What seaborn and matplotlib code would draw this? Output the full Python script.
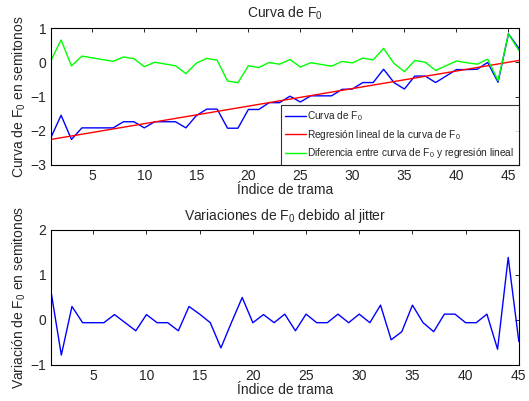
import numpy as np
import pandas as pd
import matplotlib
matplotlib.use("Agg")
import matplotlib.pyplot as plt
import seaborn as sns

# F0 curve (semitones), one value per frame
frames = np.arange(1, 47)
f0_curve = [-2.22, -1.55, -2.26, -1.92, -1.92, -1.92, -1.92, -1.74, -1.74, -1.92,
            -1.74, -1.74, -1.74, -1.92, -1.56, -1.37, -1.37, -1.93, -1.93, -1.38,
            -1.38, -1.18, -1.18, -0.99, -1.16, -0.98, -0.98, -0.98, -0.79, -0.78,
            -0.59, -0.59, -0.20, -0.59, -0.78, -0.40, -0.40, -0.59, -0.40, -0.21,
            -0.21, -0.20, 0.00, -0.58, 0.84, 0.41]

# jitter variations, one value less than the curve
jitter_frames = np.arange(1, 46)
jitter = [0.68, -0.78, 0.30, -0.06, -0.06, -0.06, 0.12, -0.06, -0.24, 0.12,
          -0.06, -0.06, -0.24, 0.30, 0.13, -0.06, -0.62, -0.05, 0.50, -0.06,
          0.12, -0.06, 0.13, -0.24, 0.13, -0.06, -0.06, 0.13, -0.06, 0.13,
          -0.06, 0.33, -0.44, -0.26, 0.33, -0.06, -0.26, 0.13, 0.13, -0.06,
          -0.06, 0.13, -0.65, 1.39, -0.48]

# linear regression of the curve and residual
coef = np.polyfit(frames, f0_curve, 1)
regression = np.polyval(coef, frames)
residual = np.array(f0_curve) - regression

df = pd.DataFrame({"frame": frames, "curve": f0_curve,
                   "reg": regression, "diff": residual})
dj = pd.DataFrame({"frame": jitter_frames, "jitter": jitter})

sns.set_style("white")
plt.rcParams["font.family"] = ["Liberation Sans", "DejaVu Sans"]
plt.rcParams["mathtext.fontset"] = "custom"
plt.rcParams["mathtext.rm"] = "Liberation Sans"
plt.rcParams["xtick.direction"] = "in"
plt.rcParams["ytick.direction"] = "in"
plt.rcParams["xtick.top"] = True
plt.rcParams["ytick.right"] = True

F0 = r"F$_\mathregular{0}$"

fig = plt.figure(figsize=(5.29, 4.01), dpi=100)
ax1 = fig.add_axes([0.0958, 0.5893, 0.885, 0.340])
ax2 = fig.add_axes([0.0958, 0.0898, 0.885, 0.3367])

sns.lineplot(data=df, x="frame", y="curve", ax=ax1, color="#0000ff", lw=1,
             label="Curva de " + F0)
sns.lineplot(data=df, x="frame", y="reg", ax=ax1, color="#ff0000", lw=1,
             label="Regresión lineal de la curva de " + F0)
sns.lineplot(data=df, x="frame", y="diff", ax=ax1, color="#00ff00", lw=1,
             label="Diferencia entre curva de " + F0 + " y regresión lineal")

sns.lineplot(data=dj, x="frame", y="jitter", ax=ax2, color="#0000ff", lw=1)

ax1.set_xlim(1, 46)
ax1.set_ylim(-3, 1)
ax1.set_yticks([-3, -2, -1, 0, 1])
ax2.set_xlim(1, 45)
ax2.set_ylim(-1, 2)
ax2.set_yticks([-1, 0, 1, 2])

for ax in (ax1, ax2):
    ax.set_xticks(range(5, 46, 5))
    ax.set_xlabel("Índice de trama", fontsize=10, labelpad=0)
    ax.tick_params(length=3, width=0.7, labelsize=10, pad=3)
    for s in ax.spines.values():
        s.set_linewidth(0.8)
        s.set_color("black")

ax1.set_title("Curva de " + F0, fontsize=10, pad=8)
ax1.set_ylabel("Curva de " + F0 + " en semitonos", fontsize=10, labelpad=2)
ax2.set_title("Variaciones de " + F0 + " debido al jitter", fontsize=10, pad=7)
ax2.set_ylabel("Variación de " + F0 + " en semitonos", fontsize=10, labelpad=2)

leg = ax1.legend(loc="lower right", fontsize=7.3, frameon=True, fancybox=False,
                 borderaxespad=0, handlelength=2.0, handletextpad=0.15,
                 labelspacing=0.45, borderpad=0.45)
leg.get_frame().set_edgecolor("black")
leg.get_frame().set_linewidth(0.8)

fig.savefig("out.png", dpi=100)
